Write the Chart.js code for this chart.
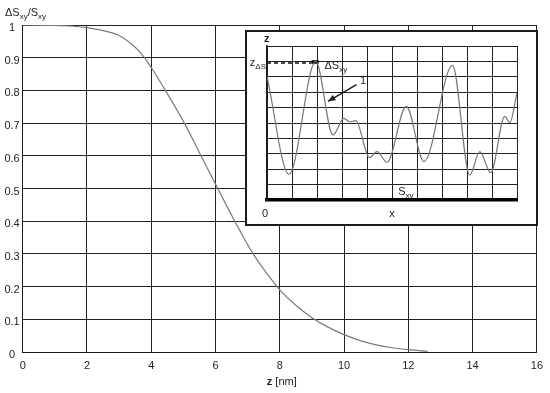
<!DOCTYPE html>
<html>
<head>
<meta charset="utf-8">
<script src="https://cdn.jsdelivr.net/npm/chart.js@4.4.1/dist/chart.umd.min.js"></script>
<style>
  html, body { margin: 0; padding: 0; background: #fff; }
  #wrap { position: relative; width: 550px; height: 393px; }
  #inset {
    position: absolute; left: 245px; top: 30px; width: 293px; height: 196px;
    box-sizing: border-box; border: 2px solid #1a1a1a; background: #fff;
  }
  #inset canvas { display: block; }
</style>
</head>
<body>
<div id="wrap">
  <canvas id="main" width="550" height="393"></canvas>
  <div id="inset"><canvas id="profile" width="289" height="192"></canvas></div>
</div>
<script>
// main curve: dS/S vs z (nm)
const mainZ     = [0, 1, 1.5, 2, 2.5, 3, 3.5, 3.75, 4, 4.44, 5.03, 5.55, 6.07, 6.6, 7.17, 7.6, 8, 8.5, 9, 9.5, 10, 10.5, 11, 11.5, 12, 12.6];
const mainRatio = [1, 0.999, 0.997, 0.992, 0.983, 0.968, 0.932, 0.905, 0.87, 0.8, 0.7, 0.6, 0.5, 0.4, 0.3, 0.24, 0.19, 0.143, 0.105, 0.076, 0.053, 0.035, 0.022, 0.013, 0.007, 0.002];
const xTicksMax = 16;
const yTicksMax = 1;

// inset: surface profile z(x), grid units 0..10
const profX = [0, 0.88, 1.95, 2.64, 3.07, 3.31, 3.55, 4.1, 4.4, 4.8, 5.57, 6.28, 7.42, 8.11, 8.51, 8.95, 9.51, 9.71, 10];
const profZ = [8.03, 1.67, 9.0, 4.22, 5.3, 5.08, 5.15, 2.75, 3.14, 2.45, 6.08, 2.49, 8.74, 1.62, 3.14, 1.77, 5.43, 5.02, 6.95];
const zDeltaS = 8.9;
const dashX = [0, 1.78];
const capX = [1.78, 2.07];
const capZ = 8.96;

const FONT = "'Liberation Sans', Arial, sans-serif";
const INK = '#1e1e1e';

function subText(ctx, x, y, main, sub, size, bold) {
  // draws main text + subscript, left aligned at x, baseline y; returns end x
  ctx.font = (bold ? 'bold ' : '') + size + 'px ' + FONT;
  ctx.fillText(main, x, y);
  let w = ctx.measureText(main).width;
  if (sub) {
    ctx.font = (size - 3) + 'px ' + FONT;
    ctx.fillText(sub, x + w, y + 3);
    w += ctx.measureText(sub).width;
  }
  return x + w;
}

const mainLabels = {
  id: 'mainLabels',
  afterDraw(chart) {
    const ctx = chart.ctx;
    const a = chart.chartArea;
    ctx.save();
    ctx.fillStyle = INK;
    ctx.textAlign = 'left';
    ctx.textBaseline = 'alphabetic';
    // y title
    let x = subText(ctx, 5, 16, 'ΔS', 'xy', 11, false);
    x = subText(ctx, x, 16, '/S', 'xy', 11, false);
    // x title
    const cx = (a.left + a.right) / 2;
    ctx.font = 'bold 11px ' + FONT;
    const w1 = ctx.measureText('z ').width;
    ctx.font = '11px ' + FONT;
    const w2 = ctx.measureText('[nm]').width;
    const sx = cx - (w1 + w2) / 2 + 2;
    ctx.font = 'bold 11px ' + FONT;
    ctx.fillText('z ', sx, 385);
    ctx.font = '11px ' + FONT;
    ctx.fillText('[nm]', sx + w1, 385);
    ctx.restore();
  }
};

new Chart(document.getElementById('main'), {
  type: 'line',
  data: {
    datasets: [{
      data: mainZ.map((z, i) => ({ x: z, y: mainRatio[i] })),
      borderColor: '#7a7a7a',
      borderWidth: 1.2,
      pointRadius: 0,
      cubicInterpolationMode: 'monotone',
      fill: false
    }]
  },
  options: {
    responsive: false,
    animation: false,
    layout: { padding: { top: 25, right: 9, left: 0, bottom: 0 } },
    plugins: { legend: { display: false }, tooltip: { enabled: false } },
    scales: {
      x: {
        type: 'linear', min: 0, max: xTicksMax,
        afterFit(s) { s.height = 41; },
        grid: { color: '#222', lineWidth: 1, drawTicks: false },
        border: { color: '#1a1a1a', width: 1 },
        ticks: { stepSize: 2, padding: 7, color: INK, font: { family: FONT, size: 11 } }
      },
      y: {
        type: 'linear', min: 0, max: yTicksMax,
        afterFit(s) { s.width = 22.7; },
        grid: { color: '#222', lineWidth: 1, drawTicks: false },
        border: { color: '#1a1a1a', width: 1 },
        ticks: {
          stepSize: 0.1, padding: 3, labelOffset: 3, crossAlign: 'center', color: INK,
          font: { family: FONT, size: 11 },
          callback: v => String(Number(v.toFixed(1)))
        }
      }
    }
  },
  plugins: [mainLabels]
});

const insetLabels = {
  id: 'insetLabels',
  afterDraw(chart) {
    const ctx = chart.ctx;
    const a = chart.chartArea;
    const sx = chart.scales.x, sy = chart.scales.y;
    ctx.save();
    ctx.fillStyle = INK;
    ctx.strokeStyle = INK;
    ctx.textBaseline = 'alphabetic';
    ctx.textAlign = 'left';
    // z axis name
    ctx.font = 'bold 11px ' + FONT;
    ctx.fillText('z', a.left - 3, a.top - 4);
    // z_dS label
    ctx.font = '11px ' + FONT;
    const wz = ctx.measureText('z').width;
    ctx.font = '8px ' + FONT;
    const wd = ctx.measureText('ΔS').width;
    const yd = sy.getPixelForValue(zDeltaS);
    subText(ctx, a.left - 1 - wz - wd, yd + 3, 'z', 'ΔS', 11, false);
    // dS_xy label
    subText(ctx, sx.getPixelForValue(2.3), yd + 6, 'ΔS', 'xy', 11, false);
    // "1" and arrow
    ctx.font = '11px ' + FONT;
    ctx.fillText('1', sx.getPixelForValue(3.72), sy.getPixelForValue(7.55));
    const x0 = sx.getPixelForValue(3.58), y0 = sy.getPixelForValue(7.49);
    const x1 = sx.getPixelForValue(2.44), y1 = sy.getPixelForValue(6.41);
    ctx.lineWidth = 1.5;
    ctx.beginPath(); ctx.moveTo(x0, y0); ctx.lineTo(x1, y1); ctx.stroke();
    const ang = Math.atan2(y1 - y0, x1 - x0);
    ctx.beginPath();
    ctx.moveTo(x1, y1);
    ctx.lineTo(x1 - 8 * Math.cos(ang - 0.4), y1 - 8 * Math.sin(ang - 0.4));
    ctx.lineTo(x1 - 8 * Math.cos(ang + 0.4), y1 - 8 * Math.sin(ang + 0.4));
    ctx.closePath(); ctx.fill();
    // S_xy
    subText(ctx, sx.getPixelForValue(5.25), sy.getPixelForValue(0.3), 'S', 'xy', 11, false);
    // 0 and x
    ctx.font = '11px ' + FONT;
    ctx.textAlign = 'center';
    ctx.fillText('0', a.left - 2, a.bottom + 17);
    ctx.fillText('x', sx.getPixelForValue(5.0), a.bottom + 17);
    ctx.restore();
  }
};

new Chart(document.getElementById('profile'), {
  type: 'line',
  data: {
    datasets: [
      {
        data: profX.map((x, i) => ({ x: x, y: profZ[i] })),
        borderColor: '#777',
        borderWidth: 1.2,
        pointRadius: 0,
        cubicInterpolationMode: 'monotone'
      },
      {
        data: dashX.map(x => ({ x: x, y: zDeltaS })),
        borderColor: '#111',
        borderWidth: 1.5,
        borderDash: [4, 3],
        pointRadius: 0
      },
      {
        data: capX.map(x => ({ x: x, y: capZ })),
        borderColor: '#000',
        borderWidth: 3.5,
        pointRadius: 0
      }
    ]
  },
  options: {
    responsive: false,
    animation: false,
    layout: { padding: { top: 14, right: 19, left: 20, bottom: 24 } },
    plugins: { legend: { display: false }, tooltip: { enabled: false } },
    scales: {
      x: {
        type: 'linear', min: 0, max: 10,
        afterFit(s) { s.height = 0; },
        grid: { color: '#222', lineWidth: 1, drawTicks: false },
        border: { color: '#000', width: 3.5 },
        ticks: { display: false, stepSize: 1 }
      },
      y: {
        type: 'linear', min: 0, max: 10,
        afterFit(s) { s.width = 0; },
        grid: { color: '#222', lineWidth: 1, drawTicks: false },
        border: { color: '#1a1a1a', width: 1.5 },
        ticks: { display: false, stepSize: 1 }
      }
    }
  },
  plugins: [insetLabels]
});
</script>
</body>
</html>
